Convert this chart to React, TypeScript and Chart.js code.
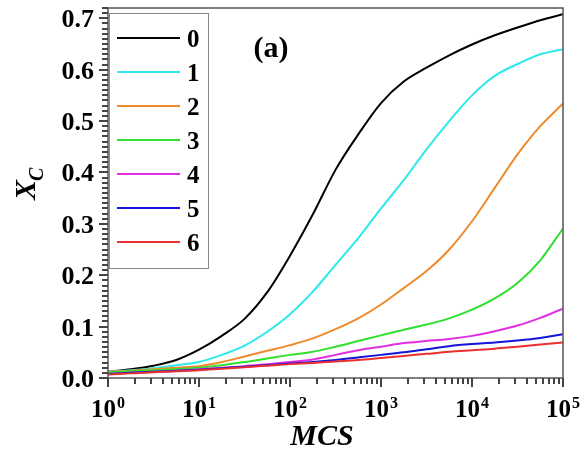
import { useEffect, useRef } from "react";
import { Chart, registerables } from "chart.js";

Chart.register(...registerables);

// Monte Carlo steps (x, log axis)
const MCS = [1, 1.778, 3.162, 5.623, 10, 17.78, 31.62, 56.23, 100, 177.8, 316.2, 562.3, 1000, 1778, 3162, 5623, 10000, 17783, 31623, 56234, 100000];

const SERIES_LABELS = ["0", "1", "2", "3", "4", "5", "6"];
const SERIES_COLORS = ["#000000", "#2ee8ea", "#f08a2c", "#2fe02f", "#e22ee2", "#1414dc", "#ec3030"];

const S0 = [0.012, 0.017, 0.024, 0.035, 0.055, 0.082, 0.115, 0.167, 0.238, 0.318, 0.405, 0.474, 0.535, 0.577, 0.604, 0.628, 0.649, 0.667, 0.682, 0.696, 0.708];
const S1 = [0.012, 0.015, 0.019, 0.025, 0.031, 0.045, 0.063, 0.09, 0.124, 0.168, 0.22, 0.272, 0.33, 0.385, 0.445, 0.5, 0.55, 0.588, 0.611, 0.63, 0.64];
const S2 = [0.012, 0.014, 0.017, 0.02, 0.023, 0.031, 0.042, 0.053, 0.064, 0.077, 0.095, 0.116, 0.143, 0.175, 0.208, 0.25, 0.305, 0.37, 0.435, 0.49, 0.534];
const S3 = [0.011, 0.013, 0.015, 0.017, 0.02, 0.025, 0.031, 0.038, 0.045, 0.051, 0.061, 0.072, 0.083, 0.094, 0.104, 0.116, 0.133, 0.155, 0.185, 0.229, 0.291];
const S4 = [0.008, 0.01, 0.012, 0.014, 0.017, 0.02, 0.023, 0.027, 0.031, 0.036, 0.045, 0.054, 0.061, 0.068, 0.072, 0.076, 0.082, 0.091, 0.102, 0.117, 0.135];
const S5 = [0.008, 0.01, 0.012, 0.014, 0.016, 0.019, 0.022, 0.025, 0.028, 0.031, 0.035, 0.04, 0.045, 0.05, 0.056, 0.062, 0.066, 0.069, 0.073, 0.078, 0.085];
const S6 = [0.007, 0.009, 0.011, 0.013, 0.015, 0.018, 0.021, 0.024, 0.027, 0.029, 0.032, 0.035, 0.039, 0.043, 0.047, 0.051, 0.054, 0.057, 0.061, 0.065, 0.069];
const SERIES = [S0, S1, S2, S3, S4, S5, S6];

const Y_TICKS = [0, 0.1, 0.2, 0.3, 0.4, 0.5, 0.6, 0.7];
const Y_TICK_LABELS = ["0.0", "0.1", "0.2", "0.3", "0.4", "0.5", "0.6", "0.7"];
const X_TICKS = [1, 10, 100, 1000, 10000, 100000];
const X_EXPONENTS = ["0", "1", "2", "3", "4", "5"];

const SERIF = "'Liberation Serif', 'Times New Roman', serif";

const decorPlugin = {
  id: "decor",
  afterDraw(chart: any) {
    const ctx = chart.ctx as CanvasRenderingContext2D;
    const { left, right, top, bottom } = chart.chartArea;
    const xs = chart.scales.x;
    const ys = chart.scales.y;
    ctx.save();

    // frame
    ctx.strokeStyle = "#555";
    ctx.lineWidth = 1.5;
    ctx.strokeRect(left, top, right - left, bottom - top);

    // y ticks (major every 0.1, minor every 0.01)
    ctx.fillStyle = "#444";
    for (let i = 0; i <= 72; i++) {
      const y = ys.getPixelForValue(i / 100);
      const len = i % 10 === 0 ? 9 : 6;
      ctx.fillRect(left - len, Math.round(y) - 1, len, 2);
    }
    // x ticks (major decades, minor 2..9)
    for (let d = 0; d < 5; d++) {
      for (let m = 2; m <= 9; m++) {
        const x = xs.getPixelForValue(m * Math.pow(10, d));
        ctx.fillRect(Math.round(x) - 1, bottom, 2, 6);
      }
    }
    X_TICKS.forEach((v) => {
      const x = xs.getPixelForValue(v);
      ctx.fillRect(Math.round(x) - 1, bottom, 2, 9);
    });

    ctx.fillStyle = "#000";
    // y labels
    ctx.font = `bold 26px ${SERIF}`;
    ctx.textAlign = "right";
    ctx.textBaseline = "alphabetic";
    Y_TICKS.forEach((v, i) => {
      const y = ys.getPixelForValue(v);
      ctx.fillText(Y_TICK_LABELS[i], 94, y + 9);
    });

    // x labels 10^n
    ctx.textAlign = "left";
    X_TICKS.forEach((v, i) => {
      const x = xs.getPixelForValue(v);
      ctx.font = `bold 25px ${SERIF}`;
      const w10 = ctx.measureText("10").width;
      ctx.font = `bold 16px ${SERIF}`;
      const we = ctx.measureText(X_EXPONENTS[i]).width;
      const start = x - (w10 + we + 1) / 2;
      ctx.font = `bold 25px ${SERIF}`;
      ctx.fillText("10", start, 417);
      ctx.font = `bold 16px ${SERIF}`;
      ctx.fillText(X_EXPONENTS[i], start + w10 + 1, 408);
    });

    // x title
    ctx.font = `italic bold 30px ${SERIF}`;
    ctx.textAlign = "center";
    ctx.fillText("MCS", 322, 445);

    // y title X_C (rotated)
    ctx.save();
    ctx.translate(35, 200);
    ctx.rotate(-Math.PI / 2);
    ctx.textAlign = "left";
    ctx.font = `italic bold 30px ${SERIF}`;
    ctx.fillText("X", 0, 0);
    const wx = ctx.measureText("X").width;
    ctx.font = `italic bold 20px ${SERIF}`;
    ctx.fillText("C", wx - 1, 8);
    ctx.restore();

    // panel label
    ctx.font = `bold 30px ${SERIF}`;
    ctx.textAlign = "center";
    ctx.fillText("(a)", 271, 57);

    // legend
    ctx.fillStyle = "#fff";
    ctx.fillRect(109.5, 13.5, 99, 255);
    ctx.strokeStyle = "#888";
    ctx.lineWidth = 1;
    ctx.strokeRect(109.5, 13.5, 99, 255);
    ctx.font = `bold 25px ${SERIF}`;
    ctx.textAlign = "left";
    SERIES_LABELS.forEach((lab, i) => {
      const cy = 38 + i * 34;
      ctx.strokeStyle = SERIES_COLORS[i];
      ctx.lineWidth = 2;
      ctx.beginPath();
      ctx.moveTo(117, cy);
      ctx.lineTo(180, cy);
      ctx.stroke();
      ctx.fillStyle = "#000";
      ctx.fillText(lab, 187, cy + 9);
    });

    ctx.restore();
  },
};

export default function App() {
  const ref = useRef<HTMLCanvasElement | null>(null);
  useEffect(() => {
    if (!ref.current) return;
    const chart = new Chart(ref.current, {
      type: "line",
      data: {
        datasets: SERIES.map((s, i) => ({
          label: SERIES_LABELS[i],
          data: s.map((v, j) => ({ x: MCS[j], y: v })),
          borderColor: SERIES_COLORS[i],
          backgroundColor: SERIES_COLORS[i],
          borderWidth: 2,
          pointRadius: 0,
          fill: false,
          cubicInterpolationMode: "monotone" as const,
          order: SERIES.length - i,
        })),
      },
      options: {
        responsive: false,
        animation: false,
        layout: { padding: { left: 108, right: 22, top: 8, bottom: 81 } },
        scales: {
          x: { type: "logarithmic", min: 1, max: 100000, display: false },
          y: { type: "linear", min: 0, max: 0.72, display: false },
        },
        plugins: {
          legend: { display: false },
          tooltip: { enabled: false },
        },
      },
      plugins: [decorPlugin],
    });
    return () => chart.destroy();
  }, []);
  return (
    <div style={{ position: "absolute", left: 0, top: 0, width: 585, height: 459, background: "#fff" }}>
      <canvas ref={ref} width={585} height={459} style={{ display: "block" }} />
    </div>
  );
}
